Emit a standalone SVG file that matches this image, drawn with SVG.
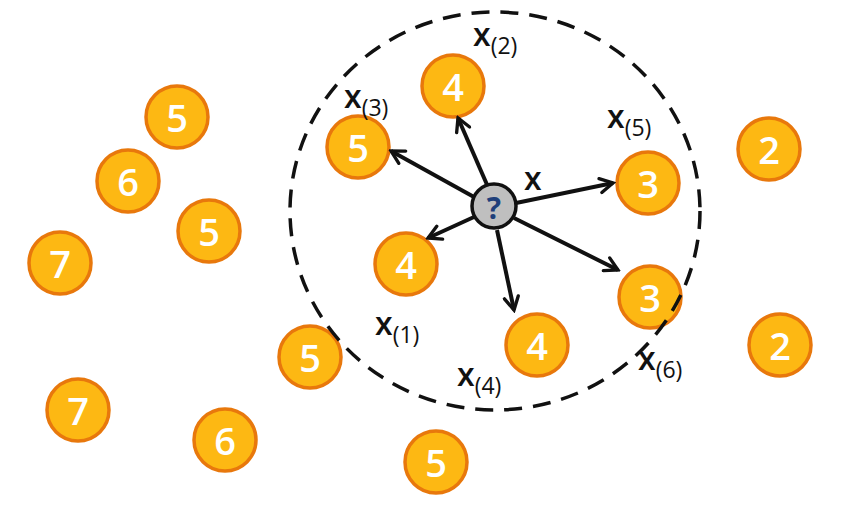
<svg xmlns="http://www.w3.org/2000/svg" width="854" height="508" viewBox="0 0 854 508">
<defs>
<style>
.n circle{fill:#FDB813;stroke:#E8780C;stroke-width:3.5}
.n text{font-family:"Open Sans","Liberation Sans",sans-serif;font-size:38px;font-weight:600;fill:#fff;text-anchor:middle;dominant-baseline:central}
.lbl{font-family:"Open Sans","Liberation Sans",sans-serif;font-size:32px;font-weight:600;fill:#111}
.lbl tspan{font-size:23px;font-weight:400}
.arr{stroke:#111;stroke-width:4;fill:none;marker-end:url(#ah)}
</style>
<marker id="ah" viewBox="0 0 14 14" refX="12" refY="7" markerWidth="18" markerHeight="18" markerUnits="userSpaceOnUse" orient="auto">
<path d="M2,1.5 L12,7 L2,12.5" fill="none" stroke="#111" stroke-width="2.6" stroke-linecap="round"/>
</marker>
</defs>
<rect width="854" height="508" fill="#fff"/>
<g id="n1" class="n"><circle cx="177" cy="117" r="31"/><text x="177" y="117">5</text></g>
<g id="n2" class="n"><circle cx="128" cy="181" r="31"/><text x="128" y="181">6</text></g>
<g id="n3" class="n"><circle cx="209" cy="231" r="31"/><text x="209" y="231">5</text></g>
<g id="n4" class="n"><circle cx="60" cy="263" r="31"/><text x="60" y="263">7</text></g>
<g id="n5" class="n"><circle cx="358" cy="147" r="31"/><text x="358" y="147">5</text></g>
<g id="n6" class="n"><circle cx="453" cy="86" r="31"/><text x="453" y="86">4</text></g>
<g id="n7" class="n"><circle cx="648" cy="183" r="31"/><text x="648" y="183">3</text></g>
<g id="n8" class="n"><circle cx="769" cy="149" r="31"/><text x="769" y="149">2</text></g>
<g id="n9" class="n"><circle cx="406" cy="264" r="31"/><text x="406" y="264">4</text></g>
<g id="n10" class="n"><circle cx="650" cy="297" r="31"/><text x="650" y="297">3</text></g>
<g id="n11" class="n"><circle cx="537" cy="345" r="31"/><text x="537" y="345">4</text></g>
<g id="n12" class="n"><circle cx="310" cy="357" r="31"/><text x="310" y="357">5</text></g>
<g id="n13" class="n"><circle cx="780" cy="345" r="31"/><text x="780" y="345">2</text></g>
<g id="n14" class="n"><circle cx="78" cy="410" r="31"/><text x="78" y="410">7</text></g>
<g id="n15" class="n"><circle cx="225" cy="440" r="31"/><text x="225" y="440">6</text></g>
<g id="n16" class="n"><circle cx="436" cy="462" r="31"/><text x="436" y="462">5</text></g>
<ellipse id="radius" cx="495" cy="211" rx="205" ry="199" fill="none" stroke="#111" stroke-width="3.5" stroke-dasharray="18 11"/>
<g id="connectors">
<line class="arr" x1="474" y1="197" x2="391" y2="151"/>
<line class="arr" x1="488" y1="187" x2="458" y2="118"/>
<line class="arr" x1="516" y1="203" x2="613" y2="183"/>
<line class="arr" x1="474" y1="217" x2="428" y2="238"/>
<line class="arr" x1="514" y1="218" x2="618" y2="270"/>
<line class="arr" x1="497" y1="230" x2="514" y2="310"/>
</g>
<g id="query">
<circle cx="494" cy="206" r="22" fill="#BFBFBF" stroke="#111" stroke-width="3.5"/>
<text x="494" y="207" font-family="Open Sans, Liberation Sans, sans-serif" font-size="30" font-weight="700" fill="#1F3F7A" text-anchor="middle" dominant-baseline="central">?</text>
</g>
<g id="labels">
<text class="lbl" x="473" y="46">x<tspan dy="8">(2)</tspan></text>
<text class="lbl" x="344" y="108">x<tspan dy="8">(3)</tspan></text>
<text class="lbl" x="607" y="128">x<tspan dy="8">(5)</tspan></text>
<text class="lbl" x="524" y="190">x</text>
<text class="lbl" x="375" y="335">x<tspan dy="8">(1)</tspan></text>
<text class="lbl" x="457" y="386">x<tspan dy="8">(4)</tspan></text>
<text class="lbl" x="638" y="370">x<tspan dy="8">(6)</tspan></text>
</g>
</svg>
